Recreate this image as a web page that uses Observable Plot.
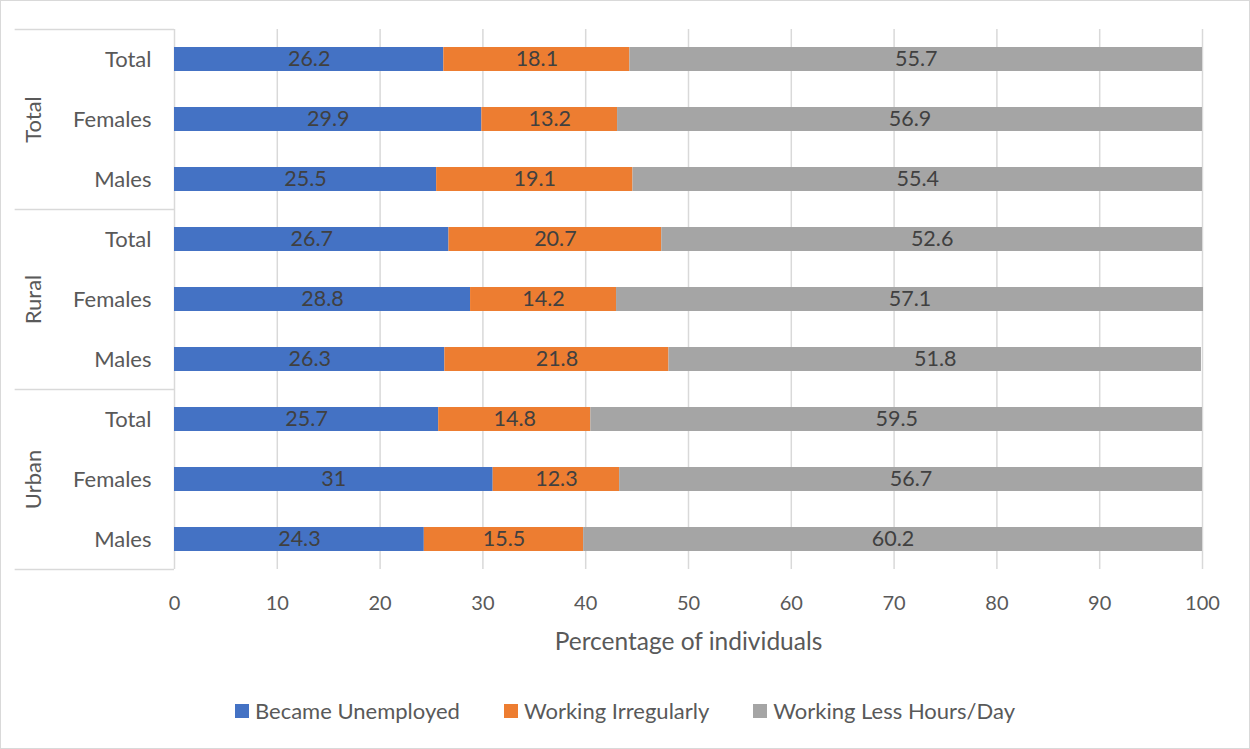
<!DOCTYPE html>
<html>
<head>
<meta charset="utf-8">
<script src="https://cdn.jsdelivr.net/npm/d3@7"></script>
<script src="https://cdn.jsdelivr.net/npm/@observablehq/plot@0.6"></script>
<style>
  html, body { margin: 0; padding: 0; background: #fff; }
  #frame {
    width: 1248px; height: 747px; border: 1px solid #d9d9d9;
    font-family: Lato, "Open Sans", sans-serif; color: #595959; position: relative;
  }
  #legend {
    display: flex; justify-content: center; align-items: center; gap: 44px;
    font-size: 22px; margin-top: 28px;
  }
  #legend .item { display: flex; align-items: center; gap: 6px; }
  #legend .swatch { width: 14px; height: 14px; display: inline-block; }
</style>
</head>
<body>
<div id="frame">
  <div id="chart"></div>
  <div id="legend"></div>
</div>
<script>
// Regions, each split into Total / Females / Males
const groups = ["Total", "Rural", "Urban"];
const subgroups = ["Total", "Females", "Males"];
const seriesNames = ["Became Unemployed", "Working Irregularly", "Working Less Hours/Day"];
const seriesColors = ["#4472C4", "#ED7D31", "#A5A5A5"];

// Percentages, ordered Total(Total, Females, Males), Rural(...), Urban(...)
const becameUnemployed = [26.2, 29.9, 25.5, 26.7, 28.8, 26.3, 25.7, 31, 24.3];
const workingIrregularly = [18.1, 13.2, 19.1, 20.7, 14.2, 21.8, 14.8, 12.3, 15.5];
const workingLessHours = [55.7, 56.9, 55.4, 52.6, 57.1, 51.8, 59.5, 56.7, 60.2];

const xTicks = [0, 10, 20, 30, 40, 50, 60, 70, 80, 90, 100];
const xTitle = "Percentage of individuals";

// Row keys, one per bar
const rows = [];
groups.forEach(g => subgroups.forEach(s => rows.push(`${g}|${s}`)));

const seriesValues = [becameUnemployed, workingIrregularly, workingLessHours];
const data = [];
seriesNames.forEach((name, si) => {
  rows.forEach((key, ri) => data.push({key, series: name, value: seriesValues[si][ri]}));
});

// Group label sits on the middle row; separators sit above the first row and below the last
const groupMid = groups.map(g => ({group: g, key: `${g}|${subgroups[1]}`}));
const groupTops = groups.map(g => `${g}|${subgroups[0]}`);
const lastRow = rows[rows.length - 1];

const chart = Plot.plot({
  width: 1248,
  height: 668,
  marginLeft: 173,
  marginRight: 47,
  marginTop: 28,
  marginBottom: 100,
  style: {fontFamily: "Lato, 'Open Sans', sans-serif", fontSize: "20px", color: "#595959", background: "#fff"},
  x: {domain: [0, 100]},
  y: {domain: rows, paddingInner: 0.6, paddingOuter: 0.3},
  color: {domain: seriesNames, range: seriesColors},
  marks: [
    Plot.ruleX(xTicks, {stroke: "#d9d9d9", strokeWidth: 1.5}),
    Plot.ruleY(groupTops, {y: d => d, dy: -30, x1: -15.5, x2: 0, stroke: "#d9d9d9", strokeWidth: 1.5}),
    Plot.ruleY([lastRow], {y: d => d, dy: 30, x1: -15.5, x2: 0, stroke: "#d9d9d9", strokeWidth: 1.5}),
    Plot.barX(data, {x: "value", y: "key", fill: "series"}),
    Plot.text(data, Plot.stackX({x: "value", y: "key", z: "series", text: d => String(d.value), fill: "#404040", fontSize: 21.5})),
    Plot.text(groupMid, {y: "key", text: "group", frameAnchor: "left", textAnchor: "middle", dx: -141, rotate: -90, fill: "#595959", fontSize: 22}),
    Plot.axisY({tickSize: 0, tickPadding: 23, tickFormat: d => d.split("|")[1], label: null, fontSize: 22}),
    Plot.axisX(xTicks, {tickSize: 0, tickPadding: 26, label: null, fontSize: 20}),
    Plot.text([xTitle], {text: d => d, frameAnchor: "bottom", dy: 80, fill: "#595959", fontSize: 24.5})
  ]
});
document.getElementById("chart").appendChild(chart);

const legend = document.getElementById("legend");
seriesNames.forEach((name, i) => {
  const item = document.createElement("div");
  item.className = "item";
  const sw = document.createElement("span");
  sw.className = "swatch";
  sw.style.background = seriesColors[i];
  const label = document.createElement("span");
  label.textContent = name;
  item.appendChild(sw);
  item.appendChild(label);
  legend.appendChild(item);
});
</script>
</body>
</html>
